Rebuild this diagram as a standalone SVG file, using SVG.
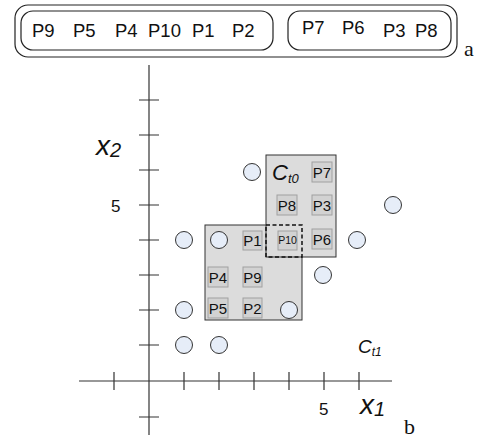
<svg xmlns="http://www.w3.org/2000/svg" width="479" height="441" viewBox="0 0 479 441">
<style>
.frame{fill:none;stroke:#222;stroke-width:1.2}
.lbl{font-family:"Liberation Sans",Arial,sans-serif;font-size:18.5px;fill:#111}
.ax{stroke:#333;stroke-width:1.2;fill:none}
.cl{fill:#dcdcdc;stroke:#333;stroke-width:1}
.pb{fill:#d2d2d2;stroke:#a0a0a0;stroke-width:1}
.pt{font-family:"Liberation Sans",Arial,sans-serif;font-size:15px;fill:#111;text-anchor:middle}
.pt10{font-family:"Liberation Sans",Arial,sans-serif;font-size:10.5px;fill:#111;text-anchor:middle}
.pt-c{fill:#e6edf8;stroke:#333;stroke-width:1}
.it{font-family:"Liberation Sans",Arial,sans-serif;font-style:italic;fill:#111}
.num{font-family:"Liberation Sans",Arial,sans-serif;font-size:17px;fill:#111}
.ser{font-family:"Liberation Serif","Times New Roman",serif;font-size:22px;fill:#111}
</style>
<g id="sequence">
<rect class="frame" x="15" y="5" width="442" height="52" rx="13"/>
<rect class="frame" x="21" y="11" width="252" height="39" rx="12"/>
<rect class="frame" x="288" y="11" width="163" height="39" rx="12"/>
<text class="lbl" x="32" y="37">P9</text>
<text class="lbl" x="73" y="37">P5</text>
<text class="lbl" x="115" y="37">P4</text>
<text class="lbl" x="148" y="37">P10</text>
<text class="lbl" x="192" y="37">P1</text>
<text class="lbl" x="232" y="37">P2</text>
<text class="lbl" x="302" y="34">P7</text>
<text class="lbl" x="342" y="34">P6</text>
<text class="lbl" x="383" y="37">P3</text>
<text class="lbl" x="415" y="37">P8</text>
<text class="ser" x="464" y="56">a</text>
</g>
<g id="axes">
<line class="ax" x1="149" y1="65" x2="149" y2="435"/>
<line class="ax" x1="79" y1="381" x2="392" y2="381"/>
<path class="ax" d="M139 100H159M139 135H159M139 170H159M139 205H159M139 240H159M139 275H159M139 310H159M139 345H159M139 417H159"/>
<path class="ax" d="M114 372V390M184 372V390M219 372V390M254 372V390M289 372V390M324 372V390M359 372V390"/>
<text class="num" x="111" y="212">5</text>
<text class="num" x="319" y="415">5</text>
<text class="it" x="96" y="155" font-size="28">x<tspan font-size="20" dy="2">2</tspan></text>
<text class="it" x="360" y="414" font-size="28">x<tspan font-size="20" dy="2">1</tspan></text>
<text class="ser" x="404" y="434">b</text>
</g>
<g id="cluster-t1">
<rect class="cl" x="205" y="225" width="97" height="95"/>
</g>
<g id="cluster-t0">
<rect class="cl" x="266" y="155" width="70" height="102"/>
<text class="it" x="272" y="180" font-size="22">C<tspan font-size="13" dy="3">t0</tspan></text>
</g>
<g id="overlap">
<rect x="266" y="225" width="36" height="32" fill="none" stroke="#111" stroke-width="1.5" stroke-dasharray="4,2.5"/>
</g>
<text class="it" x="358" y="353" font-size="19">C<tspan font-size="12" dy="3">t1</tspan></text>
<g id="points">
<g id="P7"><rect class="pb" x="312" y="162" width="20" height="20"/><text class="pt" x="322" y="177.5">P7</text></g>
<g id="P8"><rect class="pb" x="277" y="195" width="20" height="20"/><text class="pt" x="287" y="210.5">P8</text></g>
<g id="P3"><rect class="pb" x="312" y="195" width="20" height="20"/><text class="pt" x="322" y="210.5">P3</text></g>
<g id="P10"><rect class="pb" x="278" y="231" width="19" height="19"/><text class="pt10" x="287.5" y="244">P10</text></g>
<g id="P6"><rect class="pb" x="312" y="229" width="20" height="20"/><text class="pt" x="322" y="244.5">P6</text></g>
<g id="P1"><rect class="pb" x="243" y="231" width="19" height="19"/><text class="pt" x="252.5" y="246">P1</text></g>
<g id="P4"><rect class="pb" x="208" y="267" width="20" height="20"/><text class="pt" x="218" y="282.5">P4</text></g>
<g id="P9"><rect class="pb" x="243" y="267" width="19" height="20"/><text class="pt" x="252.5" y="282.5">P9</text></g>
<g id="P5"><rect class="pb" x="208" y="298" width="20" height="20"/><text class="pt" x="218" y="313.5">P5</text></g>
<g id="P2"><rect class="pb" x="243" y="298" width="19" height="20"/><text class="pt" x="252.5" y="313.5">P2</text></g>
</g>
<g id="others">
<circle class="pt-c" cx="252" cy="172" r="8.5"/>
<circle class="pt-c" cx="393" cy="205" r="8.5"/>
<circle class="pt-c" cx="184" cy="240" r="8.5"/>
<circle class="pt-c" cx="219" cy="240" r="8.5"/>
<circle class="pt-c" cx="357" cy="240" r="8.5"/>
<circle class="pt-c" cx="323" cy="275" r="8.5"/>
<circle class="pt-c" cx="184" cy="310" r="8.5"/>
<circle class="pt-c" cx="289" cy="310" r="8.5"/>
<circle class="pt-c" cx="184" cy="345" r="8.5"/>
<circle class="pt-c" cx="219" cy="345" r="8.5"/>
</g>
</svg>
